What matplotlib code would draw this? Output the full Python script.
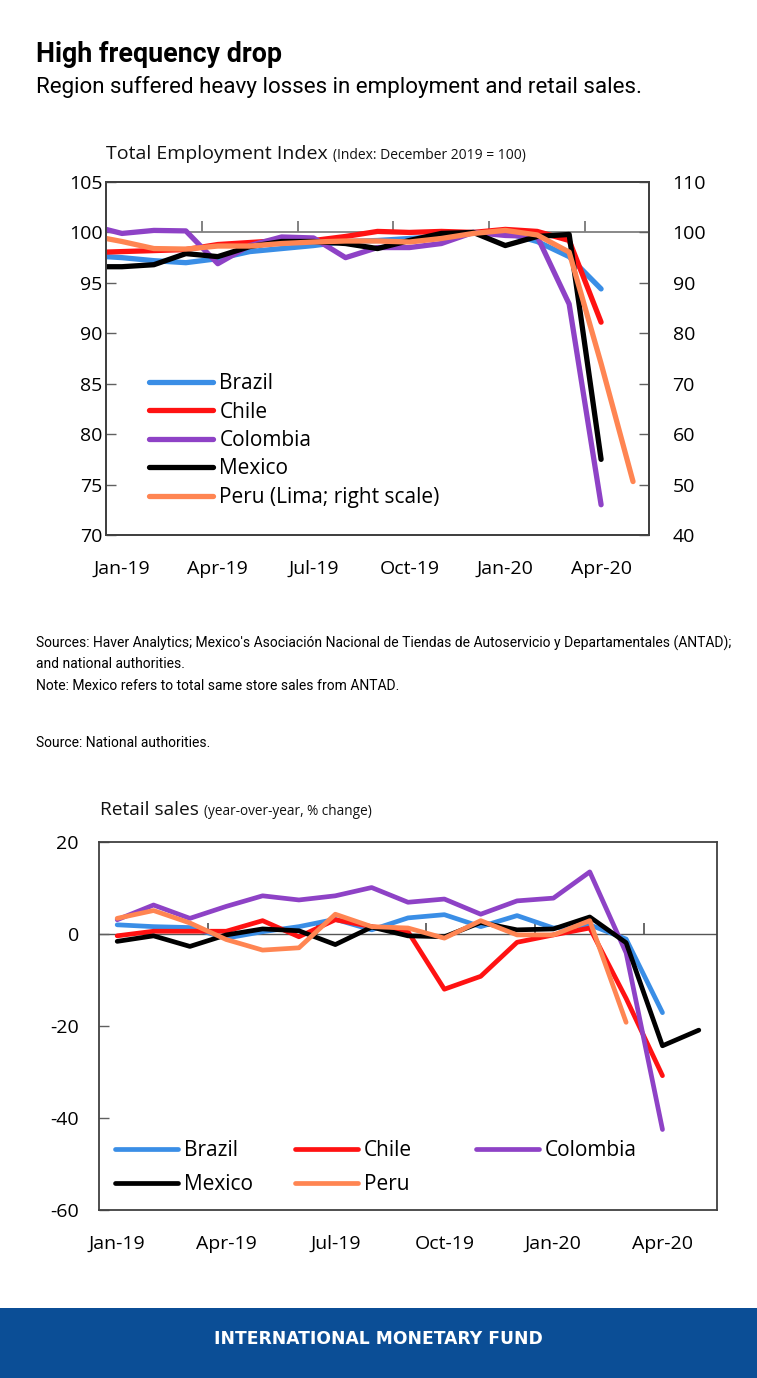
import numpy as np
import matplotlib
matplotlib.use("Agg")
import matplotlib.pyplot as plt
from matplotlib.patches import Rectangle
from matplotlib.legend import Legend

nan = np.nan

# ---------------- data ----------------
months = ['Dec-18', 'Jan-19', 'Feb-19', 'Mar-19', 'Apr-19', 'May-19', 'Jun-19',
          'Jul-19', 'Aug-19', 'Sep-19', 'Oct-19', 'Nov-19', 'Dec-19', 'Jan-20',
          'Feb-20', 'Mar-20', 'Apr-20', 'May-20']
tick_labels = ['Jan-19', 'Apr-19', 'Jul-19', 'Oct-19', 'Jan-20', 'Apr-20']

# Total employment index (Dec 2019 = 100)
emp_brazil = [97.7, 97.5, 97.2, 97.0, 97.4, 98.1, 98.4, 98.7, 99.1, 99.2, 99.4, 99.6,
              100.0, 100.0, 99.1, 97.6, 94.4, nan]
emp_chile = [98.0, 98.1, 98.2, 98.3, 98.8, 99.0, 99.2, 99.2, 99.6, 100.1, 100.0, 100.1,
             100.0, 100.3, 100.1, 99.2, 91.1, nan]
emp_colombia = [100.7, 99.9, 100.2, 100.15, 96.9, 98.7, 99.55, 99.45, 97.5, 98.5, 98.5, 98.9,
                100.0, 99.7, 99.6, 92.9, 73.0, nan]
emp_mexico = [96.6, 96.6, 96.8, 97.9, 97.6, 98.6, 99.1, 99.1, 98.9, 98.4, 99.2, 99.9,
              100.0, 98.7, 99.6, 99.8, 77.5, nan]
emp_peru = [99.4, 98.2, 96.8, 96.7, 97.3, 97.3, 97.8, 98.1, 98.3, 98.3, 98.1, 98.8,
            99.8, 100.4, 99.5, 96.1, 74.0, 50.6]   # right scale

# Retail sales (yoy, % change), Jan-19 .. May-20
retail_months = months[1:]
ret_brazil = [2.0, 1.6, 1.4, -0.9, 0.5, 1.6, 3.2, 0.9, 3.5, 4.2, 1.6, 4.0,
              1.3, 2.0, -1.1, -17.1, nan]
ret_chile = [-0.4, 0.6, 0.6, 0.6, 2.9, -0.6, 3.1, 1.6, 0.5, -12.0, -9.2, -1.8,
             -0.2, 1.3, -14.0, -30.8, nan]
ret_colombia = [3.1, 6.3, 3.4, 6.0, 8.3, 7.4, 8.3, 10.1, 6.9, 7.6, 4.3, 7.2,
                7.8, 13.5, -4.1, -42.5, nan]
ret_mexico = [-1.6, -0.4, -2.7, -0.2, 1.1, 0.7, -2.3, 1.5, -0.4, -0.6, 2.5, 0.9,
              1.1, 3.7, -1.9, -24.3, -20.9]
ret_peru = [3.4, 5.1, 2.4, -1.2, -3.5, -3.0, 4.3, 1.6, 1.3, -0.9, 2.9, -0.2,
            -0.2, 2.9, -19.2, nan, nan]

countries = ['Brazil', 'Chile', 'Colombia', 'Mexico', 'Peru']
colors = {'Brazil': '#3A8EE6', 'Chile': '#FF1212', 'Colombia': '#8E42C6',
          'Mexico': '#000000', 'Peru': '#FF8552'}

# ---------------- style ----------------
plt.rcParams['font.family'] = ['Open Sans', 'DejaVu Sans']
plt.rcParams['axes.unicode_minus'] = False
W, H = 757, 1378
fig = plt.figure(figsize=(W / 100, H / 100), dpi=100)
fig.patch.set_facecolor('white')


def fx(x):
    return x / W


def fy(y):
    return 1 - y / H


def px_axes(l, t, r, b):
    return fig.add_axes([l / W, 1 - b / H, (r - l) / W, (b - t) / H])


SPINE = '#404040'
LW = 3.8
TICK_FS = 14
line_kw = dict(solid_capstyle='round', solid_joinstyle='round')


def title_pair(xpx, ypx, main, sub, main_fs, sub_fs, gap_px=5):
    t = fig.text(fx(xpx), fy(ypx), main, fontsize=main_fs, va='baseline', color='#111111')
    fig.canvas.draw()
    bb = t.get_window_extent()
    fig.text((bb.x1 + gap_px) / W, fy(ypx), sub, fontsize=sub_fs, va='baseline',
             color='#111111')


# ---------------- header ----------------
fig.text(fx(36), fy(62), 'High frequency drop', family=['Roboto', 'DejaVu Sans'],
         fontweight='bold', fontsize=19.3, color='black', va='baseline')
fig.text(fx(36), fy(93), 'Region suffered heavy losses in employment and retail sales.',
         family=['Roboto', 'DejaVu Sans'], fontsize=16.1, color='black', va='baseline')

# ---------------- top chart ----------------
ax1 = px_axes(106, 182, 649, 535)
ax1r = ax1.twinx()
x_emp = np.arange(len(months))
emp_left = {'Brazil': emp_brazil, 'Chile': emp_chile, 'Colombia': emp_colombia,
            'Mexico': emp_mexico}
handles = []
for c in ['Brazil', 'Chile', 'Colombia', 'Mexico']:
    h, = ax1.plot(x_emp, emp_left[c], color=colors[c], lw=LW, **line_kw)
    handles.append(h)
h, = ax1r.plot(x_emp, emp_peru, color=colors['Peru'], lw=LW, **line_kw)
handles.append(h)

L_MIN, L_MAX = 70, 105
R_MIN, R_MAX = 40, 110
ax1.set_ylim(L_MIN, L_MAX)
ax1r.set_ylim(R_MIN, R_MAX)
ax1.set_xlim(0.5, len(months) - 0.5)
ax1.axhline(100, color='#7f7f7f', lw=1.3, zorder=1)

ax1.set_yticks(np.arange(L_MIN, L_MAX + 1, 5))
ax1r.set_yticks(np.arange(R_MIN, R_MAX + 1, 10))
ax1.tick_params(axis='y', direction='in', length=7, width=1, color='#606060',
                labelsize=TICK_FS, pad=2.5)
ax1r.tick_params(axis='y', direction='in', length=7, width=1, color='#606060',
                 labelsize=TICK_FS, pad=17)
ax1.set_xticks([months.index(t) for t in tick_labels], tick_labels)
ax1.tick_params(axis='x', length=0, labelsize=TICK_FS, pad=18)
for a in (ax1, ax1r):
    for s in a.spines.values():
        s.set_color(SPINE)
        s.set_linewidth(1.3)

sec1 = ax1.secondary_xaxis((100 - L_MIN) / (L_MAX - L_MIN))
sec1.set_xticks([months.index(t) - 0.5 for t in tick_labels[1:]])
sec1.tick_params(axis='x', direction='out', length=8, width=1.1, color='#606060',
                 labeltop=False, labelbottom=False)
for s in sec1.spines.values():
    s.set_visible(False)

ax1r.legend(handles, ['Brazil', 'Chile', 'Colombia', 'Mexico', 'Peru (Lima; right scale)'],
            loc='upper left', bbox_to_anchor=(fx(149), fy(373)),
            bbox_transform=fig.transFigure, frameon=False, fontsize=15,
            handlelength=3.05, handletextpad=0.33, labelspacing=0.36,
            borderpad=0, borderaxespad=0)

title_pair(106, 159, 'Total Employment Index', '(Index: December 2019 = 100)', 14, 10)

# ---------------- notes ----------------
note_font = ['Liberation Sans Narrow', 'Roboto', 'DejaVu Sans']
fig.text(fx(36), fy(648), "Sources: Haver Analytics; Mexico's Asociación Nacional de Tiendas de "
         "Autoservicio y Departamentales (ANTAD);", family=note_font, fontsize=10,
         va='baseline')
fig.text(fx(36), fy(668), 'and national authorities.', family=note_font, fontsize=10,
         va='baseline')
fig.text(fx(36), fy(690), 'Note: Mexico refers to total same store sales from ANTAD.',
         family=note_font, fontsize=10, va='baseline')
fig.text(fx(36), fy(747), 'Source: National authorities.', family=note_font, fontsize=10,
         va='baseline')

# ---------------- bottom chart ----------------
ax2 = px_axes(99, 842, 717, 1210)
x_ret = np.arange(len(retail_months))
ret = {'Brazil': ret_brazil, 'Chile': ret_chile, 'Colombia': ret_colombia,
       'Mexico': ret_mexico, 'Peru': ret_peru}
h2 = {}
for c in ['Brazil', 'Chile', 'Colombia', 'Mexico', 'Peru']:
    h2[c], = ax2.plot(x_ret, ret[c], color=colors[c], lw=3.4, **line_kw)

B_MIN, B_MAX = -60, 20
ax2.set_ylim(B_MIN, B_MAX)
ax2.set_xlim(-0.5, len(retail_months) - 0.5)
ax2.axhline(0, color='#555555', lw=1.0, zorder=1)
ax2.set_yticks(np.arange(B_MIN, B_MAX + 1, 20))
ax2.tick_params(axis='y', direction='in', length=7, width=1, color='#606060',
                labelsize=TICK_FS, pad=14.5)
ax2.set_xticks([retail_months.index(t) for t in tick_labels], tick_labels)
ax2.tick_params(axis='x', length=0, labelsize=TICK_FS, pad=18)
for s in ax2.spines.values():
    s.set_color(SPINE)
    s.set_linewidth(1.3)

sec2 = ax2.secondary_xaxis((0 - B_MIN) / (B_MAX - B_MIN))
sec2.set_xticks([retail_months.index(t) - 0.5 for t in tick_labels[1:]])
sec2.tick_params(axis='x', direction='out', length=8, width=1.1, color='#404040',
                 labeltop=False, labelbottom=False)
for s in sec2.spines.values():
    s.set_visible(False)

leg_cols = [(['Brazil', 'Mexico'], 115), (['Chile', 'Peru'], 295), (['Colombia'], 476)]
for names, xpx in leg_cols:
    lg = Legend(ax2, [h2[n] for n in names], names, loc='upper left',
                bbox_to_anchor=(fx(xpx), fy(1140)), bbox_transform=fig.transFigure,
                frameon=False, fontsize=15, handlelength=3.0, handletextpad=0.3,
                labelspacing=0.62, borderpad=0, borderaxespad=0)
    ax2.add_artist(lg)

title_pair(100, 815, 'Retail sales', '(year-over-year, % change)', 13.8, 9.8)

# ---------------- footer ----------------
fig.patches.append(Rectangle((0, 0), 1, fy(1308), transform=fig.transFigure,
                             facecolor='#0B4E96', edgecolor='none', zorder=0))
fig.text(0.5, fy(1339), 'INTERNATIONAL MONETARY FUND', color='white',
         family=['DejaVu Sans'], fontweight='bold', fontsize=12.3, ha='center',
         va='center')

fig.savefig('out.png', dpi=100)
